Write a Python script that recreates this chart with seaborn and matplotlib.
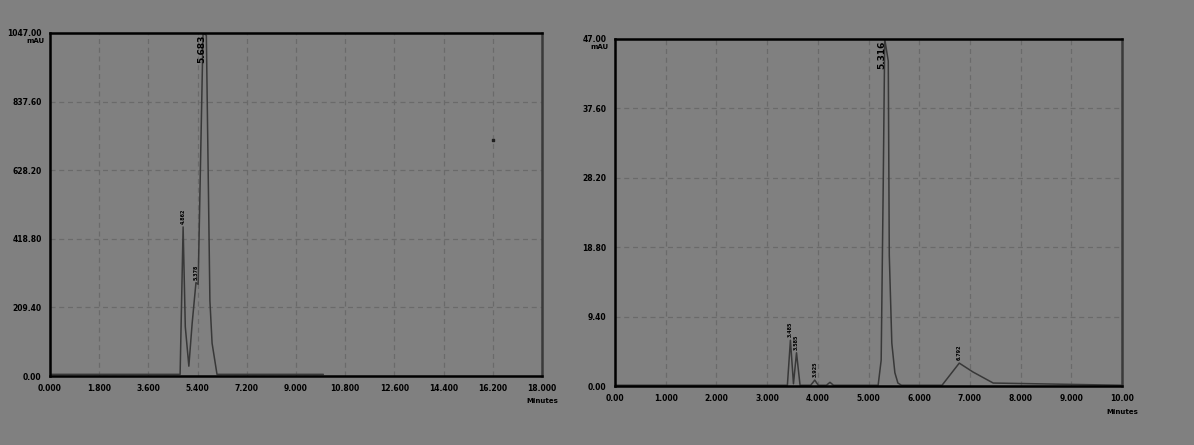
import numpy as np
import pandas as pd
import matplotlib
matplotlib.use("Agg")
import matplotlib.pyplot as plt
from matplotlib.ticker import AutoMinorLocator
import seaborn as sns

# ---- data: left chromatogram ----
left_time = [0.0, 4.76, 4.87, 4.95, 5.08, 5.20, 5.34, 5.42, 5.60, 5.72, 5.85, 5.93, 6.11, 10.0]
left_signal = [5, 5, 455, 150, 30, 160, 285, 280, 1047, 1040, 230, 100, 5, 5]
left_peak_times = [4.87, 5.36]
left_peak_heights = [455, 285]
left_peak_labels = ["4.862", "5.378"]
left_main_time = 5.56
left_main_label = "5.683"
left_xticks = [0.0, 1.8, 3.6, 5.4, 7.2, 9.0, 10.8, 12.6, 14.4, 16.2, 18.0]
left_xlabels = ["0.000", "1.800", "3.600", "5.400", "7.200", "9.000", "10.800", "12.600", "14.400", "16.200", "18.000"]
left_yticks = [0.0, 209.4, 418.8, 628.2, 837.6, 1047.0]
left_ylabels = ["0.00", "209.40", "418.80", "628.20", "837.60", "1047.00"]

# ---- data: right chromatogram ----
right_time = [0.0, 3.40, 3.46, 3.52, 3.58, 3.65, 3.86, 3.94, 4.01, 4.17, 4.24, 4.31,
              5.19, 5.25, 5.29, 5.32, 5.39, 5.41, 5.46, 5.52, 5.58, 5.65,
              6.45, 6.79, 7.06, 7.46, 10.0]
right_signal = [0.1, 0.1, 6.2, 0.3, 4.5, 0.1, 0.1, 0.8, 0.1, 0.1, 0.5, 0.1,
                0.1, 3.5, 27.0, 47.0, 44.0, 17.7, 5.8, 1.8, 0.4, 0.1,
                0.1, 3.1, 1.9, 0.4, 0.1]
right_peak_times = [3.46, 3.58, 3.94, 6.79]
right_peak_heights = [6.2, 4.5, 0.8, 3.1]
right_peak_labels = ["3.485", "3.585", "3.925", "6.792"]
right_main_time = 5.27
right_main_label = "5.316"
right_xticks = [0, 1, 2, 3, 4, 5, 6, 7, 8, 9, 10]
right_xlabels = ["0.00", "1.000", "2.000", "3.000", "4.000", "5.000", "6.000", "7.000", "8.000", "9.000", "10.00"]
right_yticks = [0.0, 9.4, 18.8, 28.2, 37.6, 47.0]
right_ylabels = ["0.00", "9.40", "18.80", "28.20", "37.60", "47.00"]

BG = "#808080"
sns.set_style("white", {"axes.facecolor": BG, "figure.facecolor": BG})
plt.rcParams["font.family"] = ["DejaVu Sans"]

fig = plt.figure(figsize=(11.94, 4.45), dpi=100)
fig.patch.set_facecolor(BG)

ax1 = fig.add_axes([50 / 1194, 1 - 376 / 445, 492 / 1194, 343 / 445])
ax2 = fig.add_axes([615 / 1194, 1 - 386 / 445, 507 / 1194, 347 / 445])

df1 = pd.DataFrame({"t": left_time, "s": left_signal})
df2 = pd.DataFrame({"t": right_time, "s": right_signal})
sns.lineplot(data=df1, x="t", y="s", ax=ax1, color="#383838", linewidth=1.1)
sns.lineplot(data=df2, x="t", y="s", ax=ax2, color="#383838", linewidth=1.1)


def style(ax, xt, xl, yt, yl, xmax, ymax, ptimes, pheights, plabels, yoff,
          mtime, mlabel, min_y):
    ax.set_facecolor(BG)
    ax.set_xlim(0, xmax)
    ax.set_ylim(min_y, ymax)
    ax.set_xticks(xt)
    ax.set_xticklabels(xl)
    ax.set_yticks(yt)
    ax.set_yticklabels(yl)
    ax.xaxis.set_minor_locator(AutoMinorLocator(5))
    ax.yaxis.set_minor_locator(AutoMinorLocator(5))
    ax.tick_params(axis="both", which="major", direction="out", length=4, width=1.2,
                   color="black", labelsize=5.5, labelcolor="black", pad=2)
    ax.tick_params(axis="both", which="minor", direction="out", length=2.5, width=1.0,
                   color="black")
    for lab in ax.get_xticklabels() + ax.get_yticklabels():
        lab.set_fontweight("bold")
    ax.grid(True, which="major", linestyle=(0, (4, 3)), color="#6a6a6a", linewidth=0.9)
    ax.set_xlabel("")
    ax.set_ylabel("")
    for side in ["left", "bottom", "top"]:
        ax.spines[side].set_color("black")
        ax.spines[side].set_linewidth(1.8)
        ax.spines[side].set_visible(True)
    ax.spines["right"].set_color("#3a3a3a")
    ax.spines["right"].set_linewidth(1.8)
    ax.spines["right"].set_visible(True)
    ax.text(-0.012, 0.985, "mAU", transform=ax.transAxes, ha="right", va="top",
            fontsize=5, fontweight="bold", color="black")
    ax.text(1.0, -0.065, "Minutes", transform=ax.transAxes, ha="center", va="top",
            fontsize=5, fontweight="bold", color="black")
    for t, h, lab in zip(ptimes, pheights, plabels):
        ax.text(t, h + yoff, lab, rotation=90, ha="center", va="bottom",
                fontsize=3.5, fontweight="bold", color="black", clip_on=False)
    ax.text(mtime, ymax * 0.995, mlabel, rotation=90, ha="center", va="top",
            fontsize=6.5, fontweight="bold", color="black")


style(ax1, left_xticks, left_xlabels, left_yticks, left_ylabels, 18.0, 1047.0,
      left_peak_times, left_peak_heights, left_peak_labels, 8,
      left_main_time, left_main_label, 0.0)
style(ax2, right_xticks, right_xlabels, right_yticks, right_ylabels, 10.0, 47.0,
      right_peak_times, right_peak_heights, right_peak_labels, 0.4,
      right_main_time, right_main_label, 0.0)

# stray mark on the left chart
ax1.scatter([16.2], [720], s=4, color="#202020", marker="s")

fig.savefig("out.png", dpi=100, facecolor=BG)
